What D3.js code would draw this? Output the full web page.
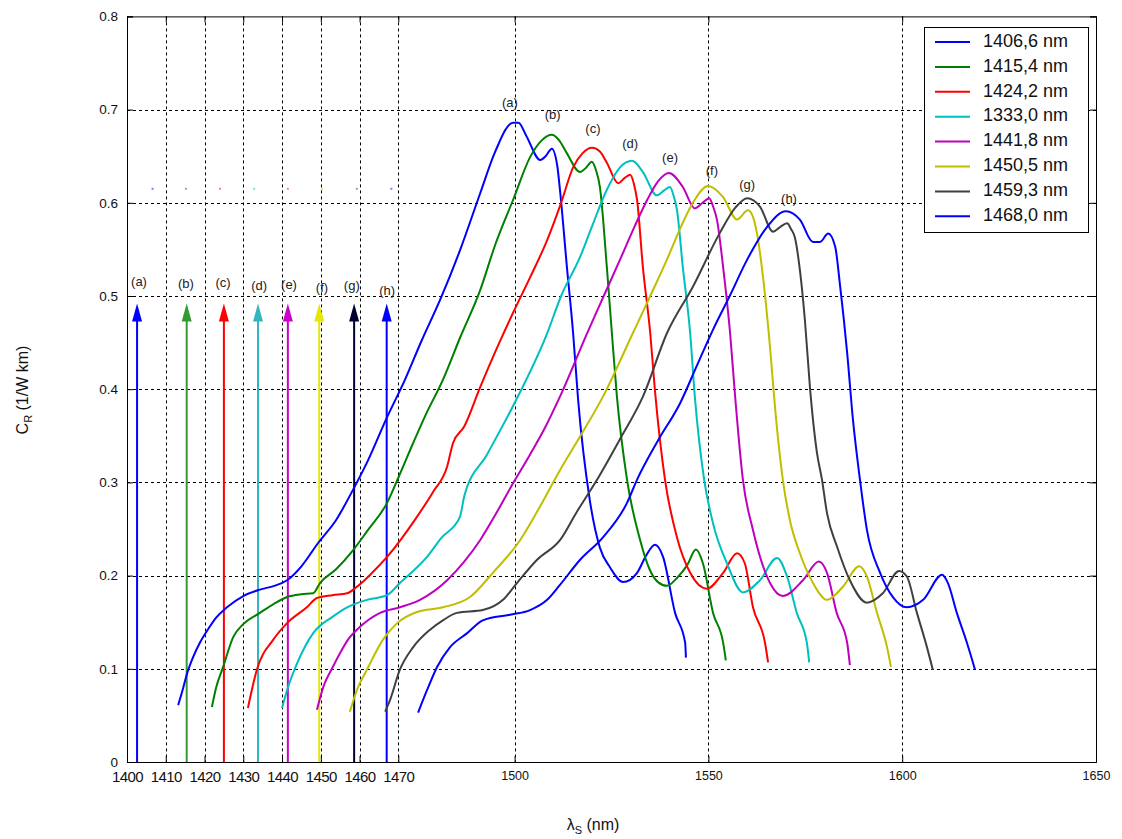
<!DOCTYPE html>
<html><head><meta charset="utf-8">
<script src="https://cdn.jsdelivr.net/npm/d3@7"></script>
<style>html,body{margin:0;padding:0;background:#fff;}svg{display:block;font-family:"Liberation Sans",Arial,sans-serif;}</style>
</head><body><svg id="c" width="1122" height="839"></svg>
<script>
const legendLabels = ["1406,6 nm","1415,4 nm","1424,2 nm","1333,0 nm","1441,8 nm","1450,5 nm","1459,3 nm","1468,0 nm"];
const seriesColors = ["#0000ff","#008000","#ff0000","#00bfbf","#bf00bf","#bfbf00","#404040","#0000ff"];
const peakLabels = ["(a)","(b)","(c)","(d)","(e)","(f)","(g)","(h)"];
const xTicks = [1400,1410,1420,1430,1440,1450,1460,1470,1500,1550,1600,1650];
const yTicks = [0,0.1,0.2,0.3,0.4,0.5,0.6,0.7,0.8];
const pumpArrowX = [1402.6,1415.4,1425.0,1433.8,1441.5,1449.6,1458.6,1467.0];
const pumpArrowTop = 0.492;
const arrowColors = ["#0000ff","#339933","#ff0000","#33b5bf","#cc00cc","#e6e600","#000033","#0000ff"];
const arrowLabelPos = [[1403.1,0.514],[1415.2,0.512],[1424.8,0.513],[1434.1,0.51],[1441.8,0.511],[1450.3,0.508],[1458,0.51],[1467.1,0.505]];
const pumpDotsX = [1406.6,1415.2,1424.0,1432.8,1441.5,1450.3,1459.3,1468.2];
const pumpDotsY = 0.615;
const peakLabelPos = [[1498.8,0.707],[1509.8,0.694],[1520.2,0.679],[1529.8,0.663],[1540.1,0.648],[1550.9,0.634],[1560,0.619],[1570.8,0.603]];

const curveA = [[1413.2,0.061],[1414.2,0.075],[1415.5,0.095],[1417,0.112],[1418.8,0.128],[1421,0.143],[1423,0.155],[1425.8,0.166],[1430,0.178],[1434.3,0.185],[1438,0.189],[1441.3,0.195],[1445,0.21],[1449.3,0.235],[1454,0.26],[1458.3,0.292],[1462,0.322],[1467.1,0.37],[1471.7,0.41],[1476,0.452],[1480.8,0.496],[1486,0.55],[1491.1,0.61],[1495,0.655],[1499.6,0.686],[1501,0.686],[1503,0.672],[1506.6,0.646],[1508,0.65],[1509.6,0.658],[1511,0.64],[1511.7,0.614],[1513.5,0.531],[1515.1,0.46],[1516.4,0.388],[1519.4,0.281],[1522,0.23],[1524.6,0.209],[1528,0.193],[1531.6,0.203],[1534,0.222],[1536.2,0.233],[1538.3,0.22],[1541.4,0.16],[1544,0.128],[1544.2,0.112]];
const curveB = [[1421.9,0.059],[1423,0.08],[1424.8,0.102],[1427.4,0.134],[1430,0.148],[1434.3,0.16],[1438,0.17],[1441.3,0.177],[1445,0.18],[1448,0.181],[1449.8,0.192],[1454,0.207],[1458.3,0.227],[1462,0.248],[1467.1,0.278],[1470,0.305],[1473.8,0.342],[1477,0.372],[1481.5,0.41],[1486,0.456],[1491.1,0.506],[1495,0.555],[1499.6,0.603],[1504,0.649],[1507,0.667],[1509.6,0.673],[1511.5,0.667],[1513.5,0.653],[1516.9,0.633],[1518.5,0.638],[1519.9,0.644],[1521,0.635],[1522,0.617],[1523.8,0.531],[1525.1,0.46],[1526.4,0.392],[1529,0.303],[1532.4,0.238],[1534.9,0.206],[1537,0.193],[1539.3,0.189],[1542,0.198],[1544.5,0.211],[1546.8,0.228],[1548.6,0.213],[1551.2,0.16],[1553.8,0.128],[1554.5,0.109]];
const curveC = [[1431.2,0.058],[1433.5,0.099],[1437.7,0.131],[1441.3,0.149],[1446.4,0.166],[1449,0.176],[1453,0.179],[1456.8,0.181],[1459.3,0.188],[1463,0.202],[1467.1,0.22],[1474.8,0.263],[1479,0.29],[1482.6,0.317],[1484.1,0.342],[1487,0.36],[1491.1,0.402],[1495,0.44],[1499.6,0.482],[1504,0.52],[1508.4,0.56],[1512,0.6],[1515.1,0.638],[1517.5,0.653],[1520,0.659],[1522,0.655],[1523.8,0.643],[1526.7,0.621],[1528.5,0.627],[1529.8,0.63],[1530.8,0.62],[1531.6,0.603],[1533.1,0.531],[1535,0.46],[1536.2,0.399],[1538.8,0.303],[1541.9,0.241],[1545.3,0.203],[1549.6,0.186],[1553.8,0.203],[1557.4,0.224],[1559.4,0.213],[1561.5,0.166],[1564.6,0.128],[1565.4,0.107]];
const curveD = [[1440,0.058],[1441.3,0.077],[1443.9,0.106],[1448,0.138],[1453.1,0.156],[1456.8,0.166],[1461.9,0.174],[1467.1,0.179],[1470.4,0.192],[1477.4,0.22],[1481,0.24],[1485.9,0.263],[1487,0.285],[1492.9,0.33],[1499.6,0.382],[1508.4,0.46],[1512,0.5],[1516.9,0.542],[1520,0.575],[1523.8,0.614],[1527.2,0.638],[1530.3,0.645],[1533.1,0.633],[1536.7,0.608],[1538.5,0.613],[1540.1,0.617],[1541,0.608],[1541.9,0.592],[1543.4,0.531],[1545.3,0.46],[1546.5,0.392],[1548.9,0.303],[1551.2,0.256],[1554.8,0.213],[1558.9,0.182],[1563.3,0.195],[1567.7,0.219],[1570.3,0.199],[1572.8,0.16],[1575.4,0.128],[1576,0.107]];
const curveE = [[1449,0.056],[1450.6,0.08],[1453.1,0.102],[1457.5,0.134],[1460.1,0.145],[1465.3,0.16],[1470.4,0.166],[1475.6,0.174],[1482.6,0.195],[1487,0.215],[1491.1,0.238],[1495,0.265],[1499.6,0.299],[1504,0.33],[1508,0.36],[1511.7,0.392],[1518.7,0.46],[1523,0.5],[1527.2,0.539],[1531,0.575],[1534.2,0.603],[1537,0.623],[1539.8,0.632],[1543.4,0.617],[1546.5,0.594],[1548.5,0.6],[1550.2,0.605],[1551.3,0.595],[1552.2,0.582],[1553.8,0.531],[1555.6,0.46],[1556.9,0.392],[1558.9,0.303],[1561.5,0.249],[1565.9,0.192],[1569.2,0.178],[1574.4,0.195],[1578.5,0.215],[1580.6,0.203],[1583.1,0.16],[1585.8,0.128],[1586.5,0.104]];
const curveF = [[1457.5,0.054],[1459.3,0.077],[1461.9,0.099],[1466,0.131],[1469.7,0.149],[1474.8,0.161],[1481.5,0.166],[1488.5,0.177],[1494.4,0.203],[1501.4,0.238],[1506,0.27],[1511.7,0.313],[1517,0.35],[1522.8,0.392],[1530.5,0.46],[1535,0.5],[1539.3,0.539],[1543,0.575],[1546,0.6],[1549.9,0.618],[1553.8,0.606],[1557.4,0.582],[1560.2,0.592],[1561.5,0.585],[1562.5,0.568],[1564.1,0.52],[1565.9,0.445],[1567.2,0.38],[1569.2,0.303],[1571,0.26],[1573.6,0.224],[1577,0.192],[1580.6,0.174],[1584.7,0.188],[1588.9,0.21],[1590.9,0.199],[1593.5,0.16],[1596.1,0.123],[1597.1,0.102]];
const curveG = [[1466.6,0.054],[1467.9,0.067],[1470.4,0.099],[1473.8,0.123],[1478.2,0.142],[1481.5,0.152],[1485.1,0.16],[1491.8,0.163],[1497,0.174],[1500.6,0.192],[1505.8,0.217],[1511.7,0.238],[1516,0.268],[1521.3,0.303],[1527,0.345],[1533.1,0.392],[1539.3,0.46],[1546,0.51],[1553,0.568],[1557,0.595],[1560,0.605],[1563.3,0.596],[1566.7,0.569],[1568.5,0.574],[1570.3,0.578],[1571.3,0.572],[1572.3,0.563],[1573.6,0.528],[1574.9,0.474],[1576.2,0.402],[1578,0.332],[1579.3,0.303],[1580.6,0.267],[1583.2,0.231],[1586.5,0.195],[1590.9,0.171],[1595,0.181],[1599.2,0.205],[1601.2,0.199],[1603.8,0.16],[1606.4,0.123],[1607.9,0.099]];
const curveH = [[1475.1,0.053],[1477.4,0.077],[1480,0.102],[1483.3,0.123],[1487.7,0.138],[1491.8,0.152],[1498.8,0.158],[1504,0.163],[1508.4,0.174],[1511.7,0.19],[1516.9,0.217],[1522.8,0.241],[1529,0.278],[1531.6,0.303],[1537,0.345],[1542.7,0.385],[1547,0.425],[1551.2,0.464],[1555.5,0.5],[1560,0.539],[1565.1,0.574],[1570,0.591],[1573.6,0.582],[1577,0.558],[1578.8,0.558],[1580.9,0.567],[1582.7,0.553],[1584,0.51],[1585.8,0.439],[1587.3,0.367],[1589.1,0.303],[1590.9,0.249],[1594.3,0.203],[1597.6,0.177],[1601.2,0.166],[1605.4,0.174],[1610.3,0.201],[1611.8,0.192],[1614.1,0.16],[1616.7,0.128],[1618.8,0.099]];
const curves = [curveA,curveB,curveC,curveD,curveE,curveF,curveG,curveH];

const svg = d3.select("#c");
const x = d3.scaleLinear().domain([1400,1650]).range([127,1096]);
const y = d3.scaleLinear().domain([0,0.8]).range([762,16.4]);

// grid
const grid = svg.append("g").attr("stroke","#000").attr("stroke-width",1).attr("stroke-dasharray","3,3").attr("fill","none");
xTicks.filter(t=>t>1400&&t<1650).forEach(t=>grid.append("line").attr("x1",Math.round(x(t))+0.5).attr("x2",Math.round(x(t))+0.5).attr("y1",y(0.8)).attr("y2",y(0)));
yTicks.filter(t=>t>0&&t<0.8).forEach(t=>grid.append("line").attr("x1",x(1400)).attr("x2",x(1650)).attr("y1",Math.round(y(t))+0.5).attr("y2",Math.round(y(t))+0.5));

// axes
const xAxis = d3.axisBottom(x).tickValues(xTicks).tickSize(-6).tickPadding(9).tickFormat(d3.format("d"));
const yAxis = d3.axisLeft(y).tickValues(yTicks).tickSize(-6).tickPadding(9).tickFormat(d=>d===0?"0":d3.format(".1f")(d));
const gx = svg.append("g").attr("transform","translate(0,762)").call(xAxis);
const gy = svg.append("g").attr("transform","translate(127,0)").call(yAxis);
[gx,gy].forEach(g=>{g.select(".domain").attr("stroke","#000");g.selectAll("line").attr("stroke","#000");g.selectAll("text").attr("fill","#111").attr("font-family","'Liberation Sans',Arial,sans-serif");});
gx.selectAll("text").attr("font-size",d=>d<=1470?"15px":"12.5px").attr("letter-spacing",d=>d<=1470?"-0.6px":"0");
gy.selectAll("text").attr("font-size","13.5px");
const gr = svg.append("g").attr("transform","translate(1096,0)").call(d3.axisRight(y).tickValues(yTicks).tickSize(-6).tickFormat(""));
gr.select(".domain").attr("stroke","#000");
const gt = svg.append("g").attr("transform","translate(0,"+y(0.8)+")").call(d3.axisTop(x).tickValues(xTicks).tickSize(-6).tickFormat(""));
gt.select(".domain").attr("stroke","#000");

// pump arrows
const arr = svg.append("g");
pumpArrowX.forEach((px,i)=>{
  const cx = x(px), top = y(pumpArrowTop);
  arr.append("line").attr("x1",cx).attr("x2",cx).attr("y1",y(0)).attr("y2",top+12).attr("stroke",arrowColors[i]).attr("stroke-width",2);
  arr.append("path").attr("d",`M${cx},${top} L${cx-5},${top+18} L${cx+5},${top+18} Z`).attr("fill",arrowColors[i]);
});
arrowLabelPos.forEach((p,i)=>svg.append("text").attr("x",x(p[0])).attr("y",y(p[1])).attr("text-anchor","middle").attr("dominant-baseline","middle").attr("font-size","13px").attr("fill","#222").text(peakLabels[i]));
pumpDotsX.forEach((px,i)=>svg.append("rect").attr("x",x(px)-1).attr("y",y(pumpDotsY)-1).attr("width",2).attr("height",2).attr("fill",seriesColors[i]).attr("opacity",0.5));

// curves
const line = d3.line().x(d=>x(d[0])).y(d=>y(d[1])).curve(d3.curveMonotoneX);
curves.forEach((c,i)=>svg.append("path").datum(c).attr("d",line).attr("fill","none").attr("stroke",seriesColors[i]).attr("stroke-width",2));
peakLabelPos.forEach((p,i)=>svg.append("text").attr("x",x(p[0])).attr("y",y(p[1])).attr("text-anchor","middle").attr("dominant-baseline","middle").attr("font-size","13px").attr("fill","#222").text(peakLabels[i]));

// legend
const lg = svg.append("g");
lg.append("rect").attr("x",924.5).attr("y",27.5).attr("width",164).attr("height",205).attr("fill","#fff").attr("stroke","#000");
legendLabels.forEach((l,i)=>{
  const yy = 42 + i*24.9;
  lg.append("line").attr("x1",935).attr("x2",970).attr("y1",yy).attr("y2",yy).attr("stroke",seriesColors[i]).attr("stroke-width",2);
  lg.append("text").attr("x",983).attr("y",yy).attr("dominant-baseline","middle").attr("font-size","18px").attr("fill","#111").text(l);
});

// axis titles
const yt = svg.append("text").attr("transform","translate(28,390) rotate(-90)").attr("text-anchor","middle").attr("font-size","16px").attr("fill","#111");
yt.append("tspan").text("C");
yt.append("tspan").attr("font-size","11px").attr("dy",4).text("R");
yt.append("tspan").attr("dy",-4).text(" (1/W km)");
const xt = svg.append("text").attr("x",593).attr("y",830).attr("text-anchor","middle").attr("font-size","16px").attr("fill","#111");
xt.append("tspan").text("λ");
xt.append("tspan").attr("font-size","11px").attr("dy",4).text("S");
xt.append("tspan").attr("dy",-4).text(" (nm)");
</script></body></html>
